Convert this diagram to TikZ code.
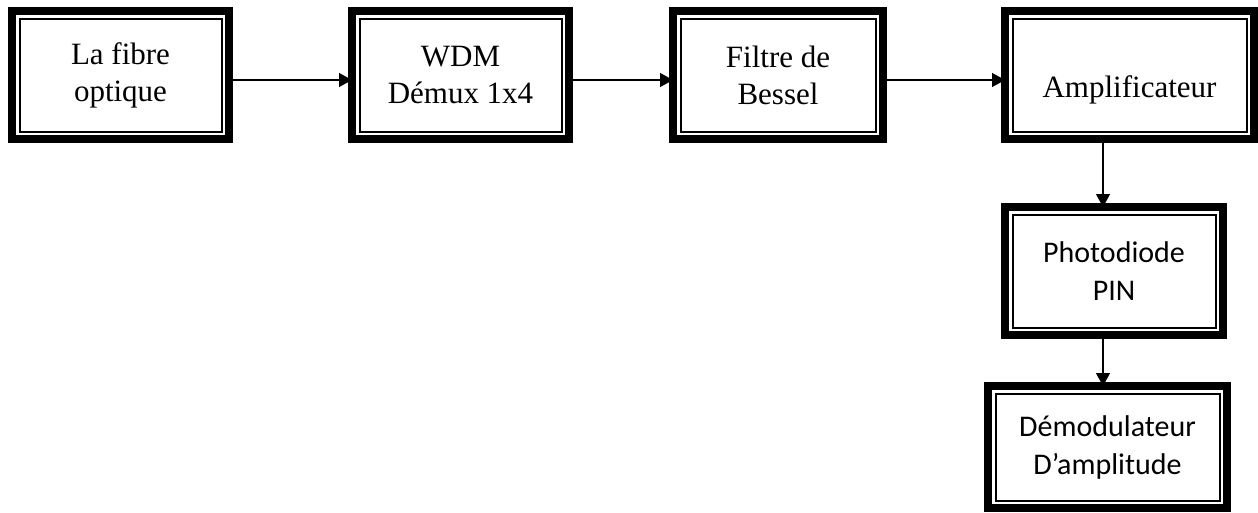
\documentclass[tikz,border=0pt]{standalone}
\usepackage{fontspec}
\setmainfont{Liberation Serif}
\newfontfamily\calibri{Carlito}
\usetikzlibrary{arrows.meta}

\tikzset{
  bloc/.style={draw, line width=8pt, outer sep=0pt, align=center, inner sep=0pt,
    minimum height=128pt, font=\fontsize{31}{37}\selectfont},
  blocsans/.style={bloc, font=\calibri\fontsize{30}{38}\selectfont},
  filet/.style={line width=2pt},
  fleche/.style={line width=1.3pt, -{Triangle[length=13pt,width=14pt]}}
}

\begin{document}
\begin{tikzpicture}[x=1pt,y=-1pt]
\useasboundingbox (0,0) rectangle (1258,512);
  % chaine de reception
  \node[bloc, minimum width=217pt] (fibre) at (120.5,75) {La fibre\\optique};
  \node[bloc, minimum width=217pt] (wdm) at (460.5,75) {WDM\\Démux 1x4};
  \node[bloc, minimum width=210pt] (bessel) at (778,75) {Filtre de\\Bessel};
  \node[bloc, minimum width=249pt, text height=44pt, text depth=0pt] (ampli) at (1129.5,75) {Amplificateur};
  \node[blocsans, minimum width=218pt] (pin) at (1114,271) {Photodiode\\PIN};
  \node[blocsans, minimum width=239pt, minimum height=122pt] (demod) at (1107.5,447) {Démodulateur\\D’amplitude};
%  cadre interieur
  \foreach \n in {fibre,wdm,bessel,ampli,pin,demod}
  	\draw[filet] ([shift={(7.5,7.5)}]\n.north west) rectangle ([shift={(-7.5,-7.5)}]\n.south east);
  \draw[fleche] ([shift={(0,5)}]fibre.east) -- ([shift={(0,5)}]wdm.west);
  \draw[fleche] ([shift={(0,5)}]wdm.east) -- ([shift={(0,5)}]bessel.west);
  \draw[fleche] ([shift={(0,5)}]bessel.east) -- ([shift={(0,5)}]ampli.west);
  \draw[fleche] ([shift={(-26.5,0)}]ampli.south) coordinate (d1) -- (d1 |- pin.north);
  \draw[fleche] ([shift={(-11,0)}]pin.south) coordinate (d2) -- (d2 |- demod.north);
\end{tikzpicture}
\end{document}
